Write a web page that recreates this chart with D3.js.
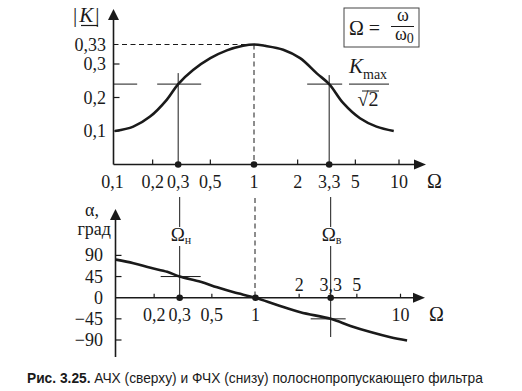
<!DOCTYPE html>
<html>
<head>
<meta charset="utf-8">
<script src="https://cdn.jsdelivr.net/npm/d3@7"></script>
<style>
  body { margin: 0; background: #fff; }
  svg { display: block; }
  .lbl { font-family: "Liberation Serif", "DejaVu Serif", serif; font-size: 18px; fill: #1a1a1a; }
  .cap { font-family: "Liberation Sans", Arial, sans-serif; font-size: 13.75px; fill: #1a1a1a; }
</style>
</head>
<body>
<div id="chart"></div>
<script>
// АЧХ: |K| от Ω
const afcOmega = [0.11, 0.147, 0.192, 0.25, 0.3, 0.38, 0.5, 0.65, 0.84, 1, 1.19, 1.59, 2.08, 2.71, 3.3, 4.13, 5.38, 7.0, 9.2];
const afcK     = [0.1, 0.113, 0.143, 0.193, 0.24, 0.282, 0.309, 0.321, 0.328, 0.33, 0.328, 0.322, 0.309, 0.272, 0.24, 0.183, 0.138, 0.113, 0.1];

// ФЧХ: α (град) от Ω
const pfcOmega = [0.109, 0.144, 0.189, 0.246, 0.3, 0.418, 0.544, 0.709, 1, 1.41, 2.04, 3.3, 4.52, 6.21, 8.53, 11.1];
const pfcAlpha = [81, 73.5, 63.5, 55, 45, 34, 22, 11.4, 0, -15.5, -31, -45, -60, -73, -84, -91];

// оси
const omegaTicks = [0.1, 0.2, 0.3, 0.5, 1, 2, 3.3, 5, 10];
const omegaLabels = ['0,1', '0,2', '0,3', '0,5', '1', '2', '3,3', '5', '10'];
const markedOmega = [0.3, 1, 3.3];
const kTicks = [0.1, 0.2, 0.3, 0.33];
const kLabels = ['0,1', '0,2', '0,3', '0,33'];
const alphaTicks = [90, 45, 0, -45, -90];
const alphaLabels = ['90', '45', '0', '\u221245', '\u221290'];
const phaseBelow = [0.2, 0.3, 0.5, 1, 10];
const phaseBelowLabels = ['0,2', '0,3', '0,5', '1', '10'];
const phaseAbove = [2, 3.3, 5];
const phaseAboveLabels = ['2', '3,3', '5'];
const kMax = 0.33, kCut = 0.24;
const omegaLow = 0.3, omegaHigh = 3.3;

const W = 522, H = 391, ink = '#1a1a1a';
const svg = d3.select('#chart').append('svg').attr('width', W).attr('height', H);

function arrowV(g, x, yTip) {
  g.append('path').attr('d', `M${x},${yTip} L${x - 5.5},${yTip + 11} L${x + 5.5},${yTip + 11} Z`).attr('fill', ink);
}
function arrowH(g, xTip, y) {
  g.append('path').attr('d', `M${xTip},${y} L${xTip - 12},${y - 5} L${xTip - 12},${y + 5} Z`).attr('fill', ink);
}
function seg(g, x1, y1, x2, y2, w, dash) {
  const l = g.append('line').attr('x1', x1).attr('y1', y1).attr('x2', x2).attr('y2', y2)
    .attr('stroke', ink).attr('stroke-width', w || 1);
  if (dash) l.attr('stroke-dasharray', dash);
  return l;
}

// ---------- верхний график: АЧХ ----------
const xT = d3.scaleLog().domain([0.1, 10]).range([109, 399]);
const yK = d3.scaleLinear().domain([0, 0.3, 0.33]).range([164.5, 64, 44.5]);
const axT = 113.5, axTy = yK(0);
const gTop = svg.append('g');

// оси
seg(gTop, axT, 14, axT, axTy, 1.6);
arrowV(gTop, axT, 9);
seg(gTop, axT, axTy, 420, axTy, 1.6);
arrowH(gTop, 426, axTy);

// деления оси Y
kTicks.filter(v => v !== kMax).forEach(v => seg(gTop, axT, yK(v), axT + 6, yK(v), 1.2));
gTop.selectAll('text.ky').data(kTicks).enter().append('text')
  .attr('class', 'lbl').attr('text-anchor', 'end')
  .attr('x', 106).attr('y', d => yK(d) + 6)
  .text((d, i) => kLabels[i]);

// деления оси X
omegaTicks.filter(v => !markedOmega.includes(v) && v !== 0.1)
  .forEach(v => seg(gTop, xT(v), axTy, xT(v), axTy - 5, 1.2));
gTop.selectAll('text.ox').data(omegaTicks).enter().append('text')
  .attr('class', 'lbl').attr('text-anchor', 'middle')
  .attr('x', d => Math.max(xT(d), axT - 1)).attr('y', 188)
  .text((d, i) => omegaLabels[i]);
gTop.append('text').attr('class', 'lbl').attr('x', 427).attr('y', 188).style('font-size', '20px').text('\u03A9');

// пунктир к максимуму
seg(gTop, axT, yK(kMax), xT(1), yK(kMax), 1, '5,3.5');
seg(gTop, xT(1), yK(kMax), xT(1), axTy, 1, '5,3.5');

// уровень Kmax/√2 и вертикали
seg(gTop, axT, yK(kCut), xT(omegaLow) - 41, yK(kCut), 1);
seg(gTop, xT(omegaLow) - 21, yK(kCut), xT(omegaLow) + 23, yK(kCut), 1);
seg(gTop, xT(omegaHigh) - 22, yK(kCut), xT(omegaHigh) + 13, yK(kCut), 1);
seg(gTop, xT(omegaLow), yK(kCut) - 11, xT(omegaLow), axTy, 1);
seg(gTop, xT(omegaHigh), yK(kCut) - 9, xT(omegaHigh), axTy, 1);

// кривая АЧХ
const afc = afcOmega.map((o, i) => [o, afcK[i]]);
gTop.append('path').datum(afc)
  .attr('fill', 'none').attr('stroke', ink).attr('stroke-width', 2.6)
  .attr('d', d3.line().x(d => xT(d[0])).y(d => yK(d[1])).curve(d3.curveCatmullRom));

gTop.selectAll('circle').data(markedOmega).enter().append('circle')
  .attr('cx', d => xT(d)).attr('cy', axTy).attr('r', 3.3).attr('fill', ink);

// |K|
const kl = gTop.append('text').attr('class', 'lbl').attr('x', 73).attr('y', 22).style('font-size', '21px');
kl.append('tspan').text('|');
kl.append('tspan').attr('dx', 2).style('font-style', 'italic').text('K');
kl.append('tspan').attr('dx', 2).text('|');
seg(gTop, 81, 25.5, 98, 25.5, 1.2);

// Ω = ω/ω0
gTop.append('rect').attr('x', 344).attr('y', 8).attr('width', 75).attr('height', 39)
  .attr('fill', 'none').attr('stroke', '#444').attr('stroke-width', 1);
gTop.append('text').attr('class', 'lbl').attr('x', 349).attr('y', 35).style('font-size', '20px').text('\u03A9 =');
gTop.append('text').attr('class', 'lbl').attr('x', 403).attr('y', 21).attr('text-anchor', 'middle').style('font-size', '18px').text('\u03C9');
seg(gTop, 391, 26.5, 414, 26.5, 1);
const w0 = gTop.append('text').attr('class', 'lbl').attr('x', 395).attr('y', 40).style('font-size', '18px');
w0.append('tspan').text('\u03C9');
w0.append('tspan').attr('dy', 3).style('font-size', '14px').text('0');

// Kmax/√2
const km = gTop.append('text').attr('class', 'lbl').attr('x', 349).attr('y', 73).style('font-size', '21px');
km.append('tspan').style('font-style', 'italic').text('K');
km.append('tspan').attr('dy', 6).style('font-size', '14px').text('max');
seg(gTop, 349, yK(kCut), 389, yK(kCut), 1);
gTop.append('text').attr('class', 'lbl').attr('x', 368).attr('y', 106).attr('text-anchor', 'middle').style('font-size', '20px').text('\u221A2');
seg(gTop, 362, 91, 379, 91, 1);

// ---------- нижний график: ФЧХ ----------
const xB = d3.scaleLog().domain([0.1, 10]).range([110.5, 400.5]);
const yA = d3.scaleLinear().domain([-90, 90]).range([340, 255.4]);
const axB = 115.5, axBy = yA(0);
const gBot = svg.append('g');

seg(gBot, axB, 215, axB, 357, 1.6);
arrowV(gBot, axB, 209);
seg(gBot, axB, axBy, 420, axBy, 1.6);
arrowH(gBot, 425, axBy);

alphaTicks.filter(v => v !== 0).forEach(v => seg(gBot, axB, yA(v), axB + 6, yA(v), 1.2));
gBot.selectAll('text.ay').data(alphaTicks).enter().append('text')
  .attr('class', 'lbl').attr('text-anchor', 'end')
  .attr('x', 103).attr('y', d => yA(d) + 6)
  .text((d, i) => alphaLabels[i]);

gBot.append('text').attr('class', 'lbl').attr('x', 99).attr('y', 216).attr('text-anchor', 'end').text('\u03B1,');
gBot.append('text').attr('class', 'lbl').attr('x', 111).attr('y', 235).attr('text-anchor', 'end').text('град');

[0.2, 0.5, 2, 5, 10].forEach(v => seg(gBot, xB(v), axBy, xB(v), axBy - 4, 1.2));
gBot.selectAll('text.pb').data(phaseBelow).enter().append('text')
  .attr('class', 'lbl').attr('text-anchor', 'middle')
  .attr('x', d => xB(d)).attr('y', 321)
  .text((d, i) => phaseBelowLabels[i]);
gBot.selectAll('text.pa').data(phaseAbove).enter().append('text')
  .attr('class', 'lbl').attr('text-anchor', 'middle')
  .attr('x', d => xB(d)).attr('y', 291)
  .text((d, i) => phaseAboveLabels[i]);
gBot.append('text').attr('class', 'lbl').attr('x', 429).attr('y', 321).style('font-size', '20px').text('\u03A9');

// вертикали между графиками
seg(svg, xB(1) - 0.5, 198, xB(1) - 0.5, axBy, 1, '5,3.5');
[[omegaLow, '\u043D'], [omegaHigh, '\u0432']].forEach(([o, s]) => {
  const x = xB(o);
  seg(gBot, x, 197, x, 227, 1);
  seg(gBot, x, 246, x, axBy, 1);
  const t = gBot.append('text').attr('class', 'lbl').attr('x', x - 9).attr('y', 241).style('font-size', '19px');
  t.append('tspan').text('\u03A9');
  t.append('tspan').attr('dy', 3).style('font-size', '12px').text(s);
});
seg(gBot, xB(omegaHigh), axBy, xB(omegaHigh), 337, 1);
seg(gBot, xB(omegaLow) - 19, yA(45), xB(omegaLow) + 21, yA(45), 1);
seg(gBot, xB(omegaHigh) - 20, yA(-45), xB(omegaHigh) + 15, yA(-45), 1);

const pfc = pfcOmega.map((o, i) => [o, pfcAlpha[i]]);
gBot.append('path').datum(pfc)
  .attr('fill', 'none').attr('stroke', ink).attr('stroke-width', 2.6)
  .attr('d', d3.line().x(d => xB(d[0])).y(d => yA(d[1])).curve(d3.curveCatmullRom));

gBot.selectAll('circle').data(markedOmega).enter().append('circle')
  .attr('cx', d => xB(d)).attr('cy', axBy).attr('r', 3.3).attr('fill', ink);

// подпись
const cap = svg.append('text').attr('class', 'cap').attr('x', 27).attr('y', 383);
cap.append('tspan').style('font-weight', 'bold').text('Рис. 3.25.');
cap.append('tspan').text(' АЧХ (сверху) и ФЧХ (снизу) полоснопропускающего фильтра');
</script>
</body>
</html>
